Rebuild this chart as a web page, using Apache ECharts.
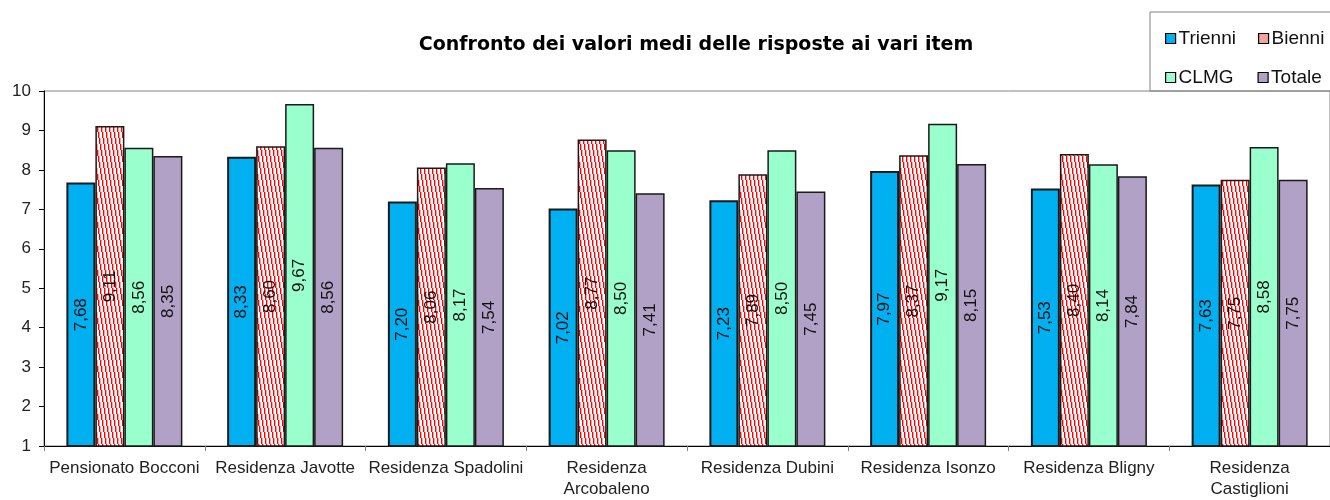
<!DOCTYPE html>
<html>
<head>
<meta charset="utf-8">
<script src="https://cdn.jsdelivr.net/npm/echarts@6/dist/echarts.min.js"></script>
<style>
  html, body { margin: 0; padding: 0; background: #fff; }
  #chart { width: 1330px; height: 500px; }
</style>
</head>
<body>
<div id="chart"></div>
<script>
// dati
var categorie = ['Pensionato Bocconi', 'Residenza Javotte', 'Residenza Spadolini', 'Residenza\nArcobaleno',
  'Residenza Dubini', 'Residenza Isonzo', 'Residenza Bligny', 'Residenza\nCastiglioni']
var trienni = [7.68, 8.33, 7.20, 7.02, 7.23, 7.97, 7.53, 7.63]
var bienni = [9.11, 8.60, 8.06, 8.77, 7.89, 8.37, 8.40, 7.75]
var clmg = [8.56, 9.67, 8.17, 8.50, 8.50, 9.17, 8.14, 8.58]
var totale = [8.35, 8.56, 7.54, 7.41, 7.45, 8.15, 7.84, 7.75]
var yTicks = [1, 10, 1] // min, max, passo

// tratteggio rosso per i Bienni
function stripes() {
  var c = document.createElement('canvas')
  c.width = 4
  c.height = 24
  var ctx = c.getContext('2d')
  var col = ['#ff0000', '#ffa0a0', '#ffffff', '#ffffff']
  for (var y = 0; y < 24; y++) {
    for (var x = 0; x < 4; x++) {
      var k = ((x - Math.floor(y / 6)) % 4 + 4) % 4
      ctx.fillStyle = col[k]
      ctx.fillRect(x, y, 1, 1)
    }
  }
  return c
}

var font = 'Liberation Sans, Arial, sans-serif'
var myChart = echarts.init(document.getElementById('chart'))

function serie(name, data, color, bw) {
  return {
    name: name,
    type: 'bar',
    barWidth: 29,
    barGap: '0%',
    data: data,
    itemStyle: { color: color, borderColor: '#1a1a1a', borderWidth: bw },
    label: {
      show: true,
      position: 'inside',
      rotate: 90,
      fontSize: 17,
      fontFamily: font,
      color: '#111',
      formatter: function (p) { return p.value.toFixed(2).replace('.', ',') }
    }
  }
}

var legendBase = {
  orient: 'horizontal',
  left: 1160,
  width: 400,
  icon: 'rect',
  itemWidth: 10,
  itemHeight: 10,
  itemGap: 22,
  selectedMode: false,
  itemStyle: { borderColor: '#000', borderWidth: 1.2 },
  textStyle: { fontSize: 19, fontFamily: font, color: '#111', padding: [0, 0, 0, -2] }
}

var option = {
  animation: false,
  title: {
    text: 'Confronto dei valori medi delle risposte ai vari item',
    left: 691,
    textAlign: 'center',
    top: 31,
    textStyle: { fontSize: 19, fontWeight: 'bold', fontFamily: 'DejaVu Sans, sans-serif', color: '#000' }
  },
  graphic: [{
    type: 'rect',
    shape: { x: 1150, y: 12, width: 200, height: 79 },
    style: { fill: 'none', stroke: '#808080', lineWidth: 1 },
    z: 1
  }],
  legend: [
    Object.assign({}, legendBase, {
      top: 24,
      data: ['Trienni', { name: 'Bienni', itemStyle: { color: '#f5a19c' } }]
    }),
    Object.assign({}, legendBase, {
      top: 63,
      itemGap: 24,
      data: ['CLMG', 'Totale']
    })
  ],
  grid: {
    left: 44, top: 91, width: 1294, height: 360,
    show: true, borderColor: '#808080', borderWidth: 1
  },
  xAxis: {
    type: 'category',
    data: categorie,
    axisLine: { lineStyle: { color: '#000', width: 1 } },
    axisTick: { show: true, length: 5, lineStyle: { color: '#808080' } },
    axisLabel: { fontSize: 17, fontFamily: font, color: '#222', margin: 12, lineHeight: 21, interval: 0 },
    splitLine: { show: false }
  },
  yAxis: {
    type: 'value',
    min: yTicks[0],
    max: yTicks[1],
    interval: yTicks[2],
    axisLine: { show: true, lineStyle: { color: '#000', width: 1 } },
    axisTick: { show: true, length: 5, lineStyle: { color: '#000' } },
    axisLabel: { fontSize: 17, fontFamily: font, color: '#222', margin: 13 },
    splitLine: { show: false }
  },
  series: [
    serie('Trienni', trienni, '#00b0f0', 2),
    serie('Bienni', bienni, { image: stripes(), repeat: 'repeat' }, 1.5),
    serie('CLMG', clmg, '#99ffcc', 1.5),
    serie('Totale', totale, '#b2a1c7', 1.5)
  ]
}
myChart.setOption(option)
</script>
</body>
</html>
